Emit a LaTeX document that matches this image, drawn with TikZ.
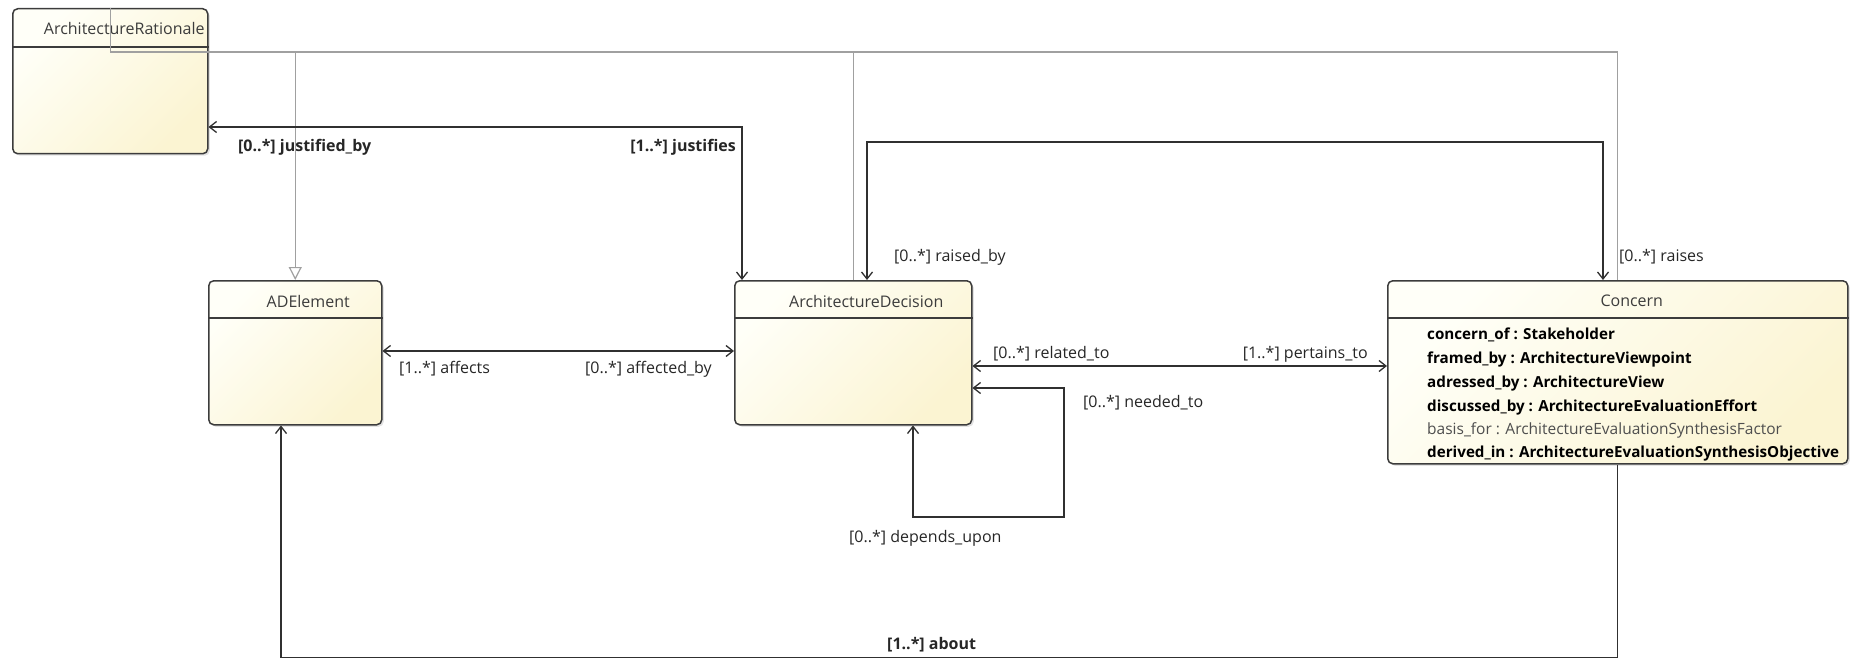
\documentclass[tikz,border=0pt]{standalone}
\usepackage{fontspec}
\setmainfont{Open Sans}
\usetikzlibrary{arrows.meta, shadows}

\definecolor{classLight}{HTML}{FFFFF8}
\definecolor{classDark}{HTML}{FBF4D2}
\definecolor{classLine}{HTML}{3C3C3C}
\definecolor{genLine}{HTML}{A0A0A0}
\definecolor{assocLine}{HTML}{303030}
\definecolor{labelText}{HTML}{262626}
\definecolor{attrGray}{HTML}{4E4E4E}

\tikzset{
  umlclass/.style={draw=classLine, line width=1.5pt, rounded corners=5pt,
    left color=classLight, right color=classDark, shading angle=45,
    anchor=north west, inner sep=0pt,
    drop shadow={shadow xshift=2pt, shadow yshift=-2pt, opacity=0.22}},
  divider/.style={draw=classLine, line width=1.5pt},
  classname/.style={inner sep=0pt, text=classLine, font=\fontsize{16}{19}\selectfont},
  attr/.style={anchor=west, inner sep=0pt, text height=11.5pt, text depth=3.5pt,
    text=black, font=\fontsize{15.2}{18}\selectfont\bfseries},
  lbl/.style={inner sep=0pt, text height=11.5pt, text depth=3.5pt,
    text=labelText, font=\fontsize{16}{19}\selectfont},
  lblbold/.style={lbl, font=\fontsize{16}{19}\selectfont\bfseries},
  assoc/.style={draw=assocLine, line width=1.3pt},
  gen/.style={draw=genLine, line width=1.2pt}
}

\begin{document}
\begin{tikzpicture}[x=1pt, y=-1pt, >={Straight Barb[length=7pt, width=11pt]}]
  \useasboundingbox (0,0) rectangle (1863,658);

  % Classes
  \node[umlclass, minimum width=195, minimum height=145] (rationale) at (12,8) {};
  \node[umlclass, minimum width=173, minimum height=144] (adelement) at (208,280) {};
  \node[umlclass, minimum width=237, minimum height=144] (decision) at (734,280) {};
  \node[umlclass, minimum width=460, minimum height=183] (concern) at (1387,280) {};

  % Header lines
  \draw[divider] ([yshift=-39]rationale.north west) -- ([yshift=-39]rationale.north east);
  \draw[divider] ([yshift=-38]adelement.north west) -- ([yshift=-38]adelement.north east);
  \draw[divider] ([yshift=-38]decision.north west) -- ([yshift=-38]decision.north east);
  \draw[divider] ([yshift=-38]concern.north west) -- ([yshift=-38]concern.north east);

  % Class names
  \node[classname] (rationaleName) at ([xshift=14, yshift=-21]rationale.north) {ArchitectureRationale};
  \node[classname] (adelementName) at ([xshift=13, yshift=-21]adelement.north) {ADElement};
  \node[classname] (decisionName) at ([xshift=13, yshift=-21]decision.north) {ArchitectureDecision};
  \node[classname] (concernName) at ([xshift=14, yshift=-21]concern.north) {Concern};

  % Attributes of Concern
  \node[attr] (concernOf) at (1427,335) {concern\_of : Stakeholder};
  \node[attr] (framedBy) at (1427,359) {framed\_by : ArchitectureViewpoint};
  \node[attr] (adressedBy) at (1427,383) {adressed\_by : ArchitectureView};
  \node[attr] (discussedBy) at (1427,407) {discussed\_by : ArchitectureEvaluationEffort};
  \node[attr, text=attrGray, font=\fontsize{15.5}{18}\selectfont] (basisFor) at (1427,430) {basis\_for : ArchitectureEvaluationSynthesisFactor};
  \node[attr] (derivedIn) at (1427,453) {derived\_in : ArchitectureEvaluationSynthesisObjective};

  % Generalization
  \draw[gen] (rationale.north) |- (concern.north |- 0,52) -- (concern.north);
  \draw[gen] (decision.north |- 0,52) -- (decision.north);
  \draw[gen, -{Triangle[open, length=13pt, width=13pt]}] (adelement.north |- 0,52) -- (adelement.north);

  % Associations
  \draw[assoc, <->] (rationale.east |- 0,127) -| ([xshift=8]decision.north west);
  \draw[assoc, <->] ([xshift=133]decision.north west) -- ++(0,-138) -| ([xshift=216]concern.north west);
  \draw[assoc, <->] (adelement.east |- 0,351) -- (decision.west |- 0,351);
  \draw[assoc, <->] (decision.east |- 0,366) -- (concern.west |- 0,366);
  \coordinate (loopCorner) at (1064,517);
  \draw[assoc, <->] ([xshift=179]decision.south west) |- (loopCorner) |- (decision.east |- 0,388);
  \draw[assoc, ->] (concern.south) -- ++(0,193) -| ([xshift=73]adelement.south west);

  % Role labels
  \node[lblbold, anchor=west] (justifiedBy) at (238,147) {[0..*] justified\_by};
  \node[lblbold, anchor=east] (justifies) at (736,147) {[1..*] justifies};
  \node[lbl, anchor=west] (raisedBy) at (894,257) {[0..*] raised\_by};
  \node[lbl, anchor=west] (raises) at (1619,257) {[0..*] raises};
  \node[lbl, anchor=west] (affects) at (399,369) {[1..*] affects};
  \node[lbl, anchor=east] (affectedBy) at (712,369) {[0..*] affected\_by};
  \node[lbl, anchor=west] (relatedTo) at (993,354) {[0..*] related\_to};
  \node[lbl, anchor=east] (pertainsTo) at (1368,354) {[1..*] pertains\_to};
  \node[lbl, anchor=west] (neededTo) at (1083,403) {[0..*] needed\_to};
  \node[lbl, anchor=west] (dependsUpon) at (849,538) {[0..*] depends\_upon};
  \node[lblbold, anchor=west] (about) at (887,645) {[1..*] about};
\end{tikzpicture}
\end{document}
